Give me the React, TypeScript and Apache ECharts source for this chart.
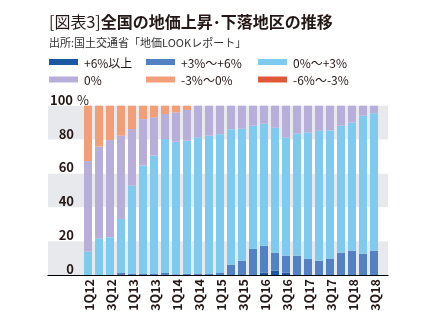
import React, { useEffect, useRef } from 'react';
import * as echarts from 'echarts';

const quarters = [
  '1Q12', '2Q12', '3Q12', '4Q12', '1Q13', '2Q13', '3Q13', '4Q13', '1Q14', '2Q14',
  '3Q14', '4Q14', '1Q15', '2Q15', '3Q15', '4Q15', '1Q16', '2Q16', '3Q16', '4Q16',
  '1Q17', '2Q17', '3Q17', '4Q17', '1Q18', '2Q18', '3Q18',
];

const seriesNames = ['+6%以上', '+3%～+6%', '0%～+3%', '0%', '-3%～0%', '-6%～-3%'];

const upOver6 = [0, 0, 0, 0, 0, 0, 0, 0, 0, 0, 0, 0, 0, 0, 0, 0, 1.4, 2.6, 1.4, 0, 0, 0, 0, 0, 0, 0, 0];
const up3to6 = [0, 0, 0, 1.2, 0.8, 0.8, 0.6, 1.2, 0.4, 0.8, 0.8, 0.8, 1.2, 6.1, 8.4, 15.4, 15.9, 10.6, 10.0, 11.4, 9.5, 8.4, 9.5, 13.2, 14.4, 12.6, 14.4];
const up0to3 = [13.8, 21.7, 22.3, 31.9, 52.0, 63.8, 69.9, 79.1, 78.3, 78.5, 80.5, 81.5, 82.0, 80.0, 78.0, 72.8, 72.1, 73.8, 69.7, 72.1, 74.7, 76.8, 75.9, 75.0, 75.6, 81.5, 81.1];
const flat = [53.5, 54.1, 57.4, 49.2, 33.4, 27.5, 22.6, 14.8, 17.4, 18.2, 18.7, 17.7, 16.8, 13.9, 13.6, 11.8, 10.6, 13.0, 18.9, 16.5, 15.8, 14.8, 14.6, 11.8, 10.0, 5.9, 4.5];
const down0to3 = [32.7, 24.2, 20.3, 17.7, 13.8, 7.9, 6.9, 4.9, 3.9, 2.5, 0, 0, 0, 0, 0, 0, 0, 0, 0, 0, 0, 0, 0, 0, 0, 0, 0];
const down3to6 = [0, 0, 0, 0, 0, 0, 0, 0, 0, 0, 0, 0, 0, 0, 0, 0, 0, 0, 0, 0, 0, 0, 0, 0, 0, 0, 0];

const colors = ['#1D57A3', '#5282C4', '#7FCBF0', '#B7AFDA', '#F29E78', '#E0583A'];

const FONT = '"Noto Sans CJK JP", "Noto Sans", sans-serif';

export default function App() {
  const ref = useRef<HTMLDivElement>(null);
  useEffect(() => {
    const chart = echarts.init(ref.current!, null, { renderer: 'svg' });
    const dataSets = [upOver6, up3to6, up0to3, flat, down0to3, down3to6];
    chart.setOption({
      animation: false,
      textStyle: { fontFamily: FONT },
      title: [
        {
          left: 44,
          top: 8,
          text: '{a|[図表3]}{b|全国の地価上昇･下落地区の推移}',
          textStyle: {
            rich: {
              a: { fontSize: 16, fontWeight: 'normal', color: '#231815', fontFamily: FONT },
              b: { fontSize: 16, fontWeight: 'bold', color: '#231815', fontFamily: FONT },
            },
          },
        },
        {
          left: 44,
          top: 31,
          text: '出所:国土交通省「地価LOOKレポート」',
          textStyle: { fontSize: 11, fontWeight: 'normal', color: '#333', fontFamily: FONT },
        },
      ],
      legend: [
        { names: [seriesNames[0], seriesNames[3]], left: 49 },
        { names: [seriesNames[1], seriesNames[4]], left: 146 },
        { names: [seriesNames[2], seriesNames[5]], left: 258 },
      ].map((l) => ({
        data: l.names,
        left: l.left,
        top: 56,
        orient: 'vertical',
        icon: 'rect',
        itemWidth: 29,
        itemHeight: 6,
        itemGap: 5.5,
        padding: 0,
        textStyle: { fontSize: 12, lineHeight: 12, color: '#231815', fontFamily: FONT, padding: [0, 0, 0, 1] },
        selectedMode: false,
      })),
      grid: [
        { left: 48, right: 38, top: 105.7, bottom: 56 },
        { left: 82.5, right: 46.5, top: 105.7, bottom: 56 },
      ],
      xAxis: [
        {
          gridIndex: 0,
          type: 'value',
          min: 0,
          max: 1,
          axisLine: { show: true, onZero: false, lineStyle: { color: '#000', width: 1.2 } },
          axisTick: { show: false },
          axisLabel: { show: false },
          splitLine: { show: false },
        },
        {
          gridIndex: 1,
          type: 'category',
          data: quarters,
          axisLine: { show: false },
          axisTick: { show: false },
          axisLabel: {
            interval: 1,
            rotate: 90,
            margin: 4,
            fontSize: 12.5,
            fontWeight: 'bold',
            color: '#231815',
            fontFamily: FONT,
          },
        },
      ],
      yAxis: [
        {
          gridIndex: 0,
          type: 'value',
          min: 0,
          max: 100,
          interval: 20,
          axisLine: { show: false },
          axisTick: { show: false },
          splitLine: { show: false },
          splitArea: { show: true, areaStyle: { color: ['#E8E9EC', '#FFFFFF'] } },
          axisLabel: {
            inside: true,
            align: 'left',
            verticalAlign: 'bottom',
            margin: 1,
            formatter: (v: number) => (v === 100 ? '{n|100}{p| %}' : '{n|' + v + '}'),
            rich: {
              n: { width: 25, align: 'right', fontSize: 13, fontWeight: 'bold', color: '#231815', fontFamily: FONT },
              p: { fontSize: 13, fontWeight: 'normal', color: '#231815', fontFamily: FONT },
            },
          },
        },
        {
          gridIndex: 1,
          type: 'value',
          min: 0,
          max: 100,
          show: false,
        },
      ],
      series: seriesNames.map((name, i) => ({
        name,
        type: 'bar',
        stack: 'total',
        xAxisIndex: 1,
        yAxisIndex: 1,
        barWidth: 8,
        data: dataSets[i],
        itemStyle: { color: colors[i] },
      })),
    });
    return () => chart.dispose();
  }, []);
  return <div ref={ref} style={{ position: 'fixed', left: 0, top: 0, width: 426, height: 331 }} />;
}
